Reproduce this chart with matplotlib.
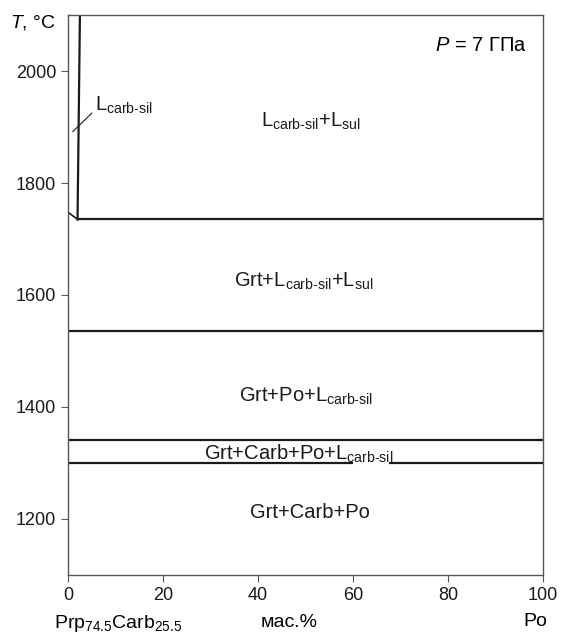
import matplotlib

matplotlib.use("Agg")
import matplotlib.pyplot as plt

plt.rcParams["font.family"] = ["Liberation Sans", "DejaVu Sans"]
plt.rcParams["mathtext.fontset"] = "custom"
plt.rcParams["mathtext.rm"] = "Liberation Sans"
plt.rcParams["mathtext.it"] = "Liberation Sans:italic"
plt.rcParams["mathtext.default"] = "regular"

# Phase boundaries (T, °C), with x extents in wt.% Po
boundary_T = [1735, 1535, 1340, 1300]
boundary_segments = [[(2, 100)], [(0, 100)], [(0, 100)], [(0, 60), (67.5, 100)]]

# Near-vertical L_carb-sil liquidus and the little corner piece at x = 0
liquidus_x = [2.0, 2.5]
liquidus_T = [1735, 2100]
corner_x = [0, 2.0]
corner_T = [1748, 1735]

# Field labels: text, x, T
SUB = r"$_{\text{carb-sil}}$"
fields = [
    ("L" + SUB + r"+L$_{\text{sul}}$", 51, 1910),
    ("Grt+L" + SUB + r"+L$_{\text{sul}}$", 49.5, 1625),
    ("Grt+Po+L" + SUB, 50, 1419),
    ("Grt+Carb+Po+L" + SUB, 48.5, 1316),
    ("Grt+Carb+Po", 51, 1212),
]

x_ticks = [0, 20, 40, 60, 80, 100]
y_ticks = [1200, 1400, 1600, 1800, 2000]

fig = plt.figure(figsize=(5.67, 6.33), dpi=100)
ax = fig.add_axes([0.12, 0.092, 0.838, 0.884])

for T, segs in zip(boundary_T, boundary_segments):
    for x0, x1 in segs:
        ax.plot([x0, x1], [T, T], color="#1a1a1a", lw=1.6, solid_capstyle="butt")

ax.plot(liquidus_x, liquidus_T, color="#1a1a1a", lw=1.6)
ax.plot(corner_x, corner_T, color="#1a1a1a", lw=1.2)

for text, x, T in fields:
    ax.text(x, T, text, ha="center", va="center", fontsize=14.5, color="#1a1a1a")

# Leader for the narrow L_carb-sil field
ax.plot([1.0, 5.0], [1892, 1925], color="#1a1a1a", lw=0.8)
ax.text(5.6, 1938, "L" + SUB, ha="left", va="center", fontsize=14.5, color="#1a1a1a")

ax.text(96.5, 2046, r"$\it{P}$ = 7 ГПа", ha="right", va="center", fontsize=14.5)

ax.set_xlim(0, 100)
ax.set_ylim(1100, 2100)
ax.set_xticks(x_ticks)
ax.set_yticks(y_ticks)
ax.tick_params(direction="out", length=5, width=0.8, color="#555555",
               labelsize=13, labelcolor="#1a1a1a")
for s in ax.spines.values():
    s.set_color("#555555")
    s.set_linewidth(1.0)

fig.text(0.058, 0.965, r"$\it{T}$, °C", ha="center", va="center", fontsize=14)
ax.text(10.5, -0.068, r"Prp$_{74.5}$Carb$_{25.5}$", transform=ax.get_xaxis_transform(),
        ha="center", va="top", fontsize=14)
ax.text(46.5, -0.07, "мас.%", transform=ax.get_xaxis_transform(),
        ha="center", va="top", fontsize=14)
ax.text(98.3, -0.068, "Po", transform=ax.get_xaxis_transform(),
        ha="center", va="top", fontsize=14)

fig.savefig("out.png", dpi=100)
